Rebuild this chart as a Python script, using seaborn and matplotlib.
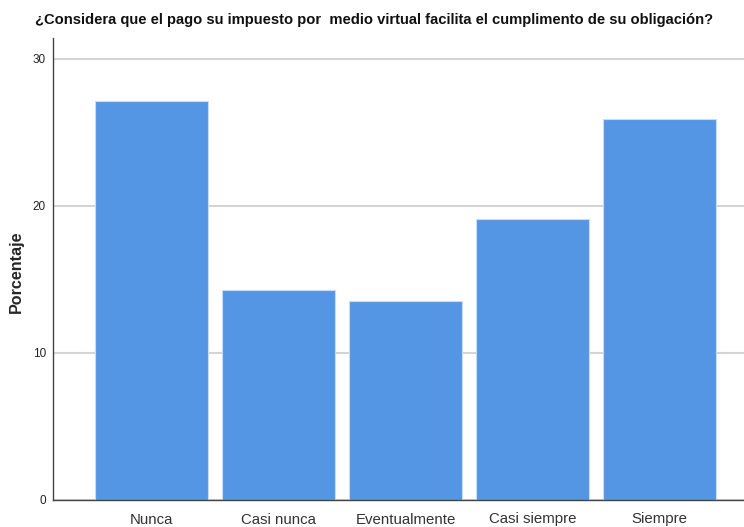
import matplotlib
matplotlib.use("Agg")
import matplotlib.pyplot as plt
import seaborn as sns
import pandas as pd

categories = ["Nunca", "Casi nunca", "Eventualmente", "Casi siempre", "Siempre"]
porcentaje = [27.1, 14.3, 13.5, 19.1, 25.9]
yticks = [0, 10, 20, 30]
title = "¿Considera que el pago su impuesto por  medio virtual facilita el cumplimento de su obligación?"

sns.set_theme(style="white")
plt.rcParams['font.family'] = ['Liberation Sans', 'DejaVu Sans']

df = pd.DataFrame({"cat": categories, "pct": porcentaje})

fig = plt.figure(figsize=(7.44, 5.27), dpi=100)
ax = fig.add_axes([53/744, 27/527, (744-53)/744, (500-38)/527])

ax.set_axisbelow(True)
ax.yaxis.grid(True, color="#d4d4d4", linewidth=1.5)
sns.barplot(data=df, x="cat", y="pct", ax=ax, color="#5596E4", saturation=1,
            width=0.89, edgecolor="#c8dcf6", linewidth=0.8)

ax.set_xlim(-0.776, 4.665)
ax.set_ylim(0, 31.4)
ax.set_yticks(yticks)
ax.set_yticklabels([str(v) for v in yticks], fontsize=8.5, color="#222222")
ax.tick_params(axis="both", length=0)
ax.tick_params(axis="y", pad=5)
ax.tick_params(axis="x", pad=9, labelsize=10.8, labelcolor="#333333")
ax.set_xlabel("")
ax.set_ylabel("Porcentaje", fontsize=11.6, fontweight="bold", labelpad=4)
ax.yaxis.set_label_coords(-(53 - 24) / 691, (500 - 272) / 462)

for s in ["top", "right"]:
    ax.spines[s].set_visible(False)
for s in ["left", "bottom"]:
    ax.spines[s].set_color("#444444")
    ax.spines[s].set_linewidth(1.0)

fig.text(374/744, 1 - 20/527, title, ha="center", va="center", fontsize=10.6, fontweight="bold", color="#111111")

fig.savefig("out.png", dpi=100)
